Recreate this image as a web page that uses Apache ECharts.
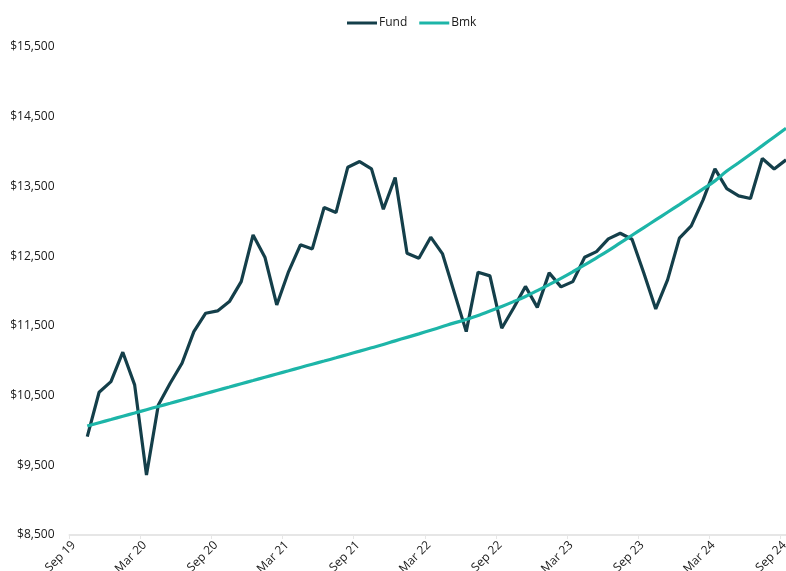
<!DOCTYPE html>
<html>
<head>
<meta charset="utf-8">
<script src="https://cdn.jsdelivr.net/npm/echarts@6/dist/echarts.min.js"></script>
<style>
html,body{margin:0;padding:0;background:#fff;}
#chart{width:786px;height:571px;}
</style>
</head>
<body>
<div id="chart"></div>
<script>
// Monthly observations, Oct 2019 .. Sep 2024 (month index 1..60 from Sep 2019)
const months = [
 '2019-10','2019-11','2019-12','2020-01','2020-02','2020-03','2020-04','2020-05','2020-06','2020-07','2020-08','2020-09',
 '2020-10','2020-11','2020-12','2021-01','2021-02','2021-03','2021-04','2021-05','2021-06','2021-07','2021-08','2021-09',
 '2021-10','2021-11','2021-12','2022-01','2022-02','2022-03','2022-04','2022-05','2022-06','2022-07','2022-08','2022-09',
 '2022-10','2022-11','2022-12','2023-01','2023-02','2023-03','2023-04','2023-05','2023-06','2023-07','2023-08','2023-09',
 '2023-10','2023-11','2023-12','2024-01','2024-02','2024-03','2024-04','2024-05','2024-06','2024-07','2024-08','2024-09'
];
const fund = [
 9911,10548,10700,11122,10653,9361,10366,10677,10964,11417,11681,11714,
 11848,12135,12805,12485,11800,12279,12662,12604,13197,13125,13776,13857,
 13752,13173,13628,12542,12470,12772,12532,11973,11417,12270,12217,11466,
 11757,12066,11765,12260,12059,12135,12485,12565,12748,12829,12743,12255,
 11743,12159,12758,12934,13307,13752,13468,13365,13326,13900,13749,13881
];
const bmk = [
 10064,10111,10157,10204,10250,10297,10344,10390,10437,10483,10530,10577,
 10623,10670,10716,10763,10810,10856,10903,10950,10995,11042,11090,11137,
 11185,11233,11285,11335,11385,11437,11490,11543,11590,11650,11712,11778,
 11848,11922,12005,12092,12182,12276,12374,12476,12580,12690,12800,12910,
 13020,13130,13240,13352,13465,13580,13720,13840,13962,14085,14210,14335
];
const tickLabels = ['Sep 19','Mar 20','Sep 20','Mar 21','Sep 21','Mar 22','Sep 22','Mar 23','Sep 23','Mar 24','Sep 24'];

// position of each month on the month axis (Sep 2019 = 0), mid-month
function monthPos(m){
  const [y, mo] = m.split('-').map(Number);
  return (y - 2019) * 12 + (mo - 9) + 0.5;
}
const fundData = months.map((m,i)=>[monthPos(m), fund[i]]);
const bmkData = months.map((m,i)=>[monthPos(m), bmk[i]]);

const chart = echarts.init(document.getElementById('chart'), null, {renderer:'canvas'});
const font = '"Open Sans", "Noto Sans", sans-serif';
chart.setOption({
  animation:false,
  backgroundColor:'#ffffff',
  legend:{
    top:12, left:342,
    icon:'rect', itemWidth:30, itemHeight:3, itemGap:12,
    textStyle:{fontFamily:font, fontSize:12, color:'#1a1a1a', padding:[0,0,0,-3]},
    data:['Fund','Bmk']
  },
  grid:{left:69.5, right:0, top:47, bottom:36, containLabel:false, outerBoundsMode:'none'},
  xAxis:{
    type:'value', min:0, max:60.5, interval:6,
    axisLine:{show:true, lineStyle:{color:'#e6e6e6', width:2}},
    axisTick:{show:true, length:4, lineStyle:{color:'#e6e6e6', width:1}},
    splitLine:{show:false},
    axisLabel:{
      rotate:45, margin:4, fontFamily:font, fontSize:12, color:'#1a1a1a',
      verticalAlign:'top',
      showMaxLabel:false, hideOverlap:false,
      formatter:function(v){
        if (Math.abs(v % 6) > 1e-6) return '';
        const k = Math.round(v/6);
        return tickLabels[k] || '';
      }
    }
  },
  yAxis:{
    type:'value', min:8500, max:15500, interval:1000,
    axisLine:{show:false}, axisTick:{show:false}, splitLine:{show:false},
    axisLabel:{
      margin:15, fontFamily:font, fontSize:12, color:'#1a1a1a',
      formatter:function(v){ return '$' + v.toLocaleString('en-US'); }
    }
  },
  series:[
    {name:'Fund', type:'line', data:fundData, showSymbol:false, symbol:'none',
     lineStyle:{color:'#143f4a', width:3.2}, itemStyle:{color:'#143f4a'}},
    {name:'Bmk', type:'line', data:bmkData, showSymbol:false, symbol:'none', smooth:true,
     lineStyle:{color:'#1db5a8', width:3.2}, itemStyle:{color:'#1db5a8'}}
  ]
});
</script>
</body>
</html>
